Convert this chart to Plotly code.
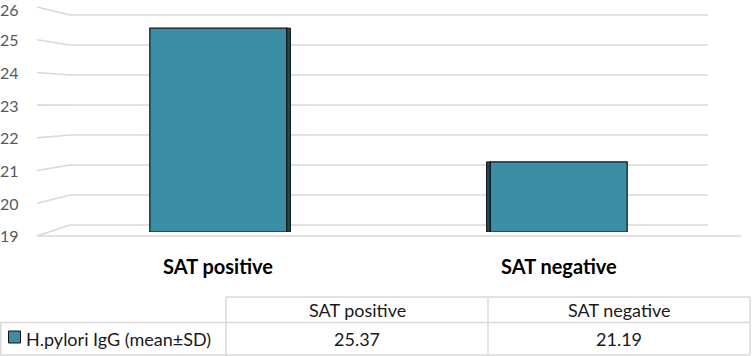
import plotly.graph_objects as go

# ---- data ----
categories = ["SAT positive", "SAT negative"]
values = [25.37, 21.19]
value_labels = ["25.37", "21.19"]
series_name = "H.pylori IgG (mean±SD)"
y_ticks = [19, 20, 21, 22, 23, 24, 25, 26]

W, H = 752, 356
FONT = "Lato"
BAR = "#3A8EA5"
SIDE = "#1E4A57"
GRID = "#D9D9D9"

def px(x):
    return x / W

def py(y):
    return 1 - y / H

fig = go.Figure()

# dark side faces (pseudo 3D)
fig.add_trace(go.Bar(
    x=[0, 1], y=[v - 19 for v in values], base=19,
    width=[0.013, 0.013], offset=[0.199, -0.212],
    marker=dict(color=SIDE, line=dict(color="#111111", width=1)),
    hoverinfo="skip", showlegend=False,
))
# front faces
fig.add_trace(go.Bar(
    x=[0, 1], y=[v - 19 for v in values], base=19,
    width=0.402, name=series_name,
    marker=dict(color=BAR, line=dict(color="#111111", width=1.2)),
    showlegend=False,
))

shapes = []
annotations = []

# perspective gridlines and y labels
y0_lab, y1_lab = 236, 7
for v in y_ticks:
    left_y = y0_lab - (y0_lab - y1_lab) / 7 * (v - 19)
    back_y = 225 - 30 * (v - 19)
    shapes.append(dict(
        type="path", xref="paper", yref="paper", layer="below",
        path=f"M {px(37)} {py(left_y)} L {px(70)} {py(back_y)} L {px(708)} {py(back_y)}",
        line=dict(color=GRID, width=1.6),
    ))
    annotations.append(dict(
        x=px(21), y=py(max(left_y, 9)), xref="paper", yref="paper",
        xanchor="right", yanchor="middle", showarrow=False,
        text=str(v), font=dict(family=FONT, size=16, color="#595959"),
    ))
# floor front edge
shapes.append(dict(type="line", xref="paper", yref="paper", layer="below",
                   x0=px(37), x1=px(741), y0=py(236), y1=py(236),
                   line=dict(color=GRID, width=1.6)))

# category labels
for i, c in enumerate(categories):
    annotations.append(dict(
        x=i, y=py(266), xref="x", yref="paper", showarrow=False,
        xanchor="center", yanchor="middle",
        text=f"<b>{c}</b>", font=dict(family=FONT, size=20, color="#000000"),
    ))

# data table
TL = "#D9D9D9"
TF = 18
col_x = [0, 226, 488, 750]
row_y = [297, 322.5, 355]
shapes.append(dict(type="line", xref="paper", yref="paper", x0=px(226), x1=px(750),
                   y0=py(297), y1=py(297), line=dict(color=TL, width=1.5)))
for y in row_y[1:]:
    shapes.append(dict(type="line", xref="paper", yref="paper", x0=px(0.5), x1=px(750),
                       y0=py(y), y1=py(y), line=dict(color=TL, width=1.5)))
shapes.append(dict(type="line", xref="paper", yref="paper", x0=px(0.7), x1=px(0.7),
                   y0=py(322.5), y1=py(355), line=dict(color=TL, width=1.5)))
for x in col_x[1:]:
    shapes.append(dict(type="line", xref="paper", yref="paper", x0=px(x), x1=px(x),
                       y0=py(297), y1=py(355), line=dict(color=TL, width=1.5)))
# legend key
shapes.append(dict(type="rect", xref="paper", yref="paper",
                   x0=px(8.5), x1=px(20.5), y0=py(331), y1=py(343),
                   fillcolor=BAR, line=dict(color="#111111", width=1)))
annotations.append(dict(x=px(24), y=py(338.5), xref="paper", yref="paper",
                        xanchor="left", yanchor="middle", showarrow=False,
                        text=series_name, font=dict(family=FONT, size=TF, color="#1a1a1a")))
for i, c in enumerate(categories):
    cx = (col_x[i + 1] + col_x[i + 2]) / 2
    annotations.append(dict(x=px(cx), y=py(310), xref="paper", yref="paper",
                            xanchor="center", yanchor="middle", showarrow=False,
                            text=c, font=dict(family=FONT, size=TF, color="#1a1a1a")))
    annotations.append(dict(x=px(cx), y=py(338.5), xref="paper", yref="paper",
                            xanchor="center", yanchor="middle", showarrow=False,
                            text=value_labels[i], font=dict(family=FONT, size=TF, color="#1a1a1a")))

fig.update_layout(
    width=W, height=H,
    margin=dict(l=0, r=0, t=0, b=0),
    paper_bgcolor="white", plot_bgcolor="rgba(0,0,0,0)",
    barmode="overlay",
    showlegend=False,
    xaxis=dict(domain=[px(48), px(729)], range=[-0.5, 1.5], showticklabels=False,
               showgrid=False, zeroline=False, showline=False, fixedrange=True),
    yaxis=dict(domain=[py(232), py(8)], range=[19, 26], showticklabels=False,
               showgrid=False, zeroline=False, showline=False, fixedrange=True),
    shapes=shapes,
    annotations=annotations,
)

fig.write_html("out.html", config={"displayModeBar": False},
               post_script="document.body.style.margin='0';document.body.style.overflow='hidden';")
